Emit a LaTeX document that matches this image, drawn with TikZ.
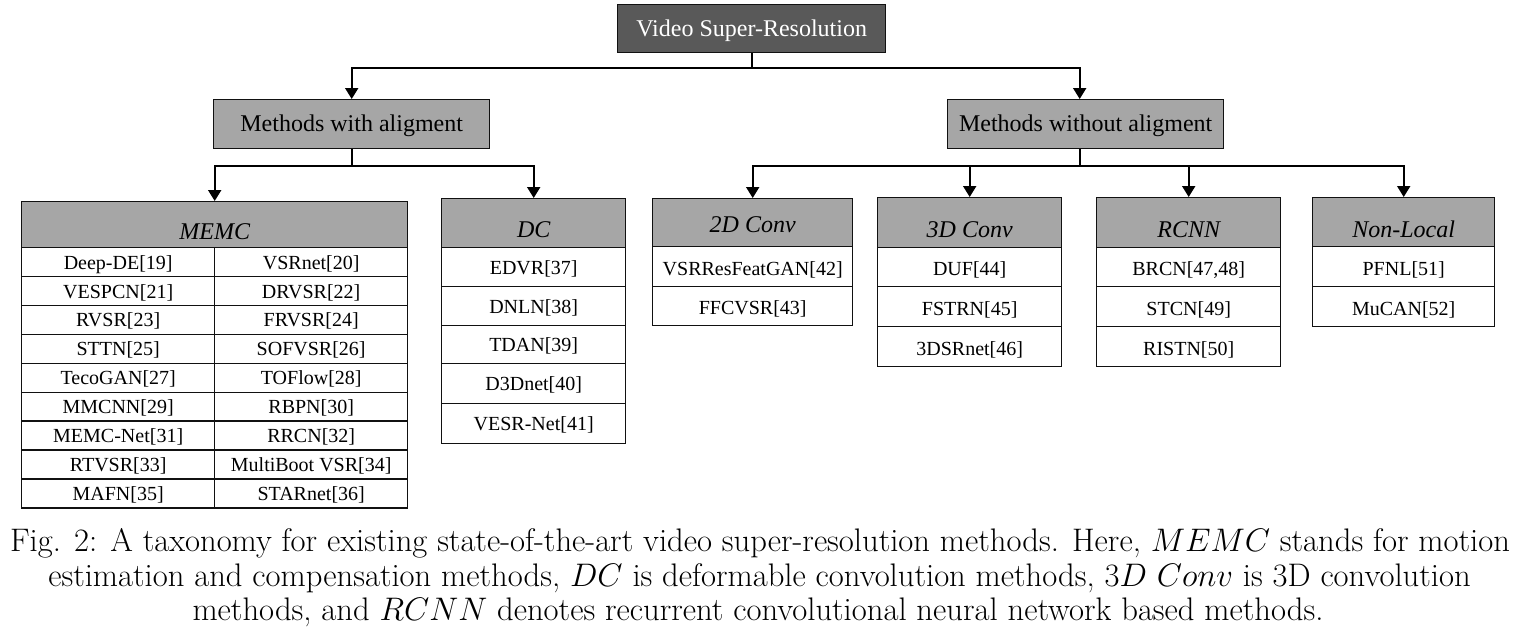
\RequirePackage{fix-cm}
\documentclass[tikz,border=0pt]{standalone}
\usepackage{fontspec}
\newfontfamily\tnr{Liberation Serif}
\usetikzlibrary{arrows.meta}
\definecolor{darkfill}{HTML}{595959}
\definecolor{midfill}{HTML}{A6A6A6}
\definecolor{edge}{HTML}{111111}
\newlength\capwd
\begin{document}
\settowidth\capwd{\fontsize{28}{30}\selectfont Fig. 2: A taxonomy for existing state-of-the-art video super-resolution methods. Here, $MEMC$ stands for motion}%
\pgfmathsetmacro\capfs{1500/\capwd*28}%
\begin{tikzpicture}[x=1pt,y=-1pt,
  boxbase/.style={draw=edge, line width=1.4pt, inner sep=0pt, anchor=north west, align=center},
  sz/.style 2 args={minimum width=#1, minimum height=#2},
  topbox/.style={boxbase, fill=darkfill, text=white, font=\tnr\fontsize{24}{28}\selectfont, text height=15pt, text depth=0pt},
  midbox/.style={boxbase, fill=midfill, font=\tnr\fontsize{24}{28}\selectfont, text height=15pt, text depth=0pt},
  headbox/.style={boxbase, fill=midfill, font=\tnr\itshape\fontsize{24}{28}\selectfont, text height=30pt, text depth=0pt},
  cellbox/.style={boxbase, fill=white, font=\tnr\fontsize{20}{24}\selectfont, text height=14pt, text depth=0pt},
  rcellbox/.style={cellbox, text height=17pt},
  conn/.style={draw=black, line width=2pt, -{Triangle[length=11pt,width=13pt]}},
  captext/.style={anchor=base, inner sep=0pt, font=\fontsize{\capfs}{\capfs}\selectfont}
]
\useasboundingbox (0,0) rectangle (1526,635);

% top levels
\node[topbox, sz={268pt}{48pt}] (vsr) at (617,4) {Video Super-Resolution};
\node[midbox, sz={276pt}{49pt}] (wa) at (213,99) {Methods with aligment};
\node[midbox, sz={276pt}{49pt}] (wo) at (947,99) {Methods without aligment};

% MEMC table
\node[headbox, sz={386pt}{46pt}] (memc) at (21,201) {MEMC};
\foreach \i/\a/\b in {1/{Deep-DE[19]}/{VSRnet[20]},
                      2/{VESPCN[21]}/{DRVSR[22]},
                      3/{RVSR[23]}/{FRVSR[24]},
                      4/{STTN[25]}/{SOFVSR[26]},
                      5/{TecoGAN[27]}/{TOFlow[28]},
                      6/{MMCNN[29]}/{RBPN[30]},
                      7/{MEMC-Net[31]}/{RRCN[32]},
                      8/{RTVSR[33]}/{MultiBoot VSR[34]},
                      9/{MAFN[35]}/{STARnet[36]}}{
  \pgfmathsetmacro\yy{247+28.9*(\i-1)}
  \node[cellbox, sz={193pt}{28.9pt}] (memcL\i) at (21,\yy) {\a};
  \node[cellbox, sz={193pt}{28.9pt}] (memcR\i) at (214,\yy) {\b};
}

% DC table
\node[headbox, sz={184pt}{49pt}, text height=29pt] (dc) at (441,198) {DC};
\node[cellbox, sz={184pt}{39pt}] (dc1) at (441,247) {EDVR[37]};
\node[cellbox, sz={184pt}{39pt}] (dc2) at (441,286) {DNLN[38]};
\node[cellbox, sz={184pt}{38pt}] (dc3) at (441,325) {TDAN[39]};
\node[cellbox, sz={184pt}{40pt}] (dc4) at (441,363) {D3Dnet[40]};
\node[cellbox, sz={184pt}{40pt}] (dc5) at (441,403) {VESR-Net[41]};

% 2D Conv table
\node[headbox, sz={200pt}{48pt}, text height=20pt] (c2d) at (652,198) {2D Conv};
\node[rcellbox, sz={200pt}{40pt}] (c2d1) at (652,246) {VSRResFeatGAN[42]};
\node[rcellbox, sz={200pt}{39pt}] (c2d2) at (652,286) {FFCVSR[43]};

% 3D Conv table
\node[headbox, sz={184pt}{50pt}] (c3d) at (877,197) {3D Conv};
\node[rcellbox, sz={184pt}{39pt}] (c3d1) at (877,247) {DUF[44]};
\node[rcellbox, sz={184pt}{40pt}] (c3d2) at (877,286) {FSTRN[45]};
\node[rcellbox, sz={184pt}{40pt}] (c3d3) at (877,326) {3DSRnet[46]};

% RCNN table
\node[headbox, sz={184pt}{50pt}] (rcnn) at (1096,197) {RCNN};
\node[rcellbox, sz={184pt}{39pt}] (rcnn1) at (1096,247) {BRCN[47,48]};
\node[rcellbox, sz={184pt}{40pt}] (rcnn2) at (1096,286) {STCN[49]};
\node[rcellbox, sz={184pt}{40pt}] (rcnn3) at (1096,326) {RISTN[50]};

% Non-Local table
\node[headbox, sz={182pt}{49pt}] (nl) at (1312,197) {Non-Local};
\node[rcellbox, sz={182pt}{40pt}] (nl1) at (1312,246) {PFNL[51]};
\node[rcellbox, sz={182pt}{40pt}] (nl2) at (1312,286) {MuCAN[52]};

% connectors
\coordinate (ya) at (0,68);
\coordinate (yb) at (0,166);
\draw[conn] (vsr.south) -- (vsr.south |- ya) -| (wa.north);
\draw[conn] (vsr.south |- ya) -| ([xshift=-6pt]wo.north);
\draw[conn] (wa.south) -- (wa.south |- yb) -| (memc.north);
\draw[conn] (wa.south |- yb) -| (dc.north);
\draw[conn] ([xshift=-6pt]wo.south) -- ([xshift=-6pt]wo.south |- yb) -| (c2d.north);
\draw[conn] ([xshift=-6pt]wo.south |- yb) -| (c3d.north);
\draw[conn] ([xshift=-6pt]wo.south |- yb) -| (rcnn.north);
\draw[conn] ([xshift=-6pt]wo.south |- yb) -| (nl.north);

% caption
\node[captext] (cap1) at (760,551) {Fig. 2: A taxonomy for existing state-of-the-art video super-resolution methods. Here, $MEMC$ stands for motion};
\node[captext] (cap2) at (759.5,586) {estimation and compensation methods, $DC$ is deformable convolution methods, $3D\ Conv$ is 3D convolution};
\node[captext] (cap3) at (758,620) {methods, and $RCNN$ denotes recurrent convolutional neural network based methods.};
\end{tikzpicture}
\end{document}
